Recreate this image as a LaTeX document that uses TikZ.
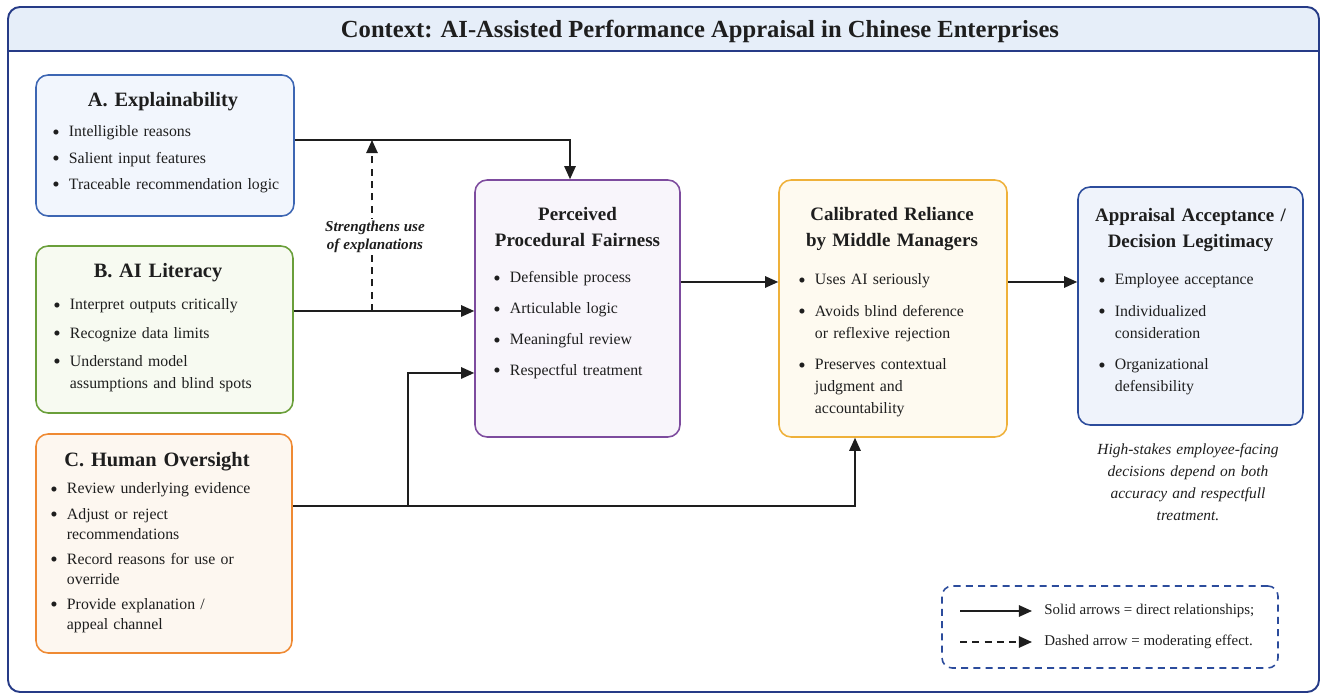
\documentclass[tikz,border=0pt]{standalone}
\usepackage{fontspec}
\setmainfont{Liberation Serif}
\usepackage{xcolor}
\usetikzlibrary{arrows.meta}

\definecolor{frameblue}{HTML}{263B87}
\definecolor{headfill}{HTML}{E6EEF9}
\definecolor{inkdark}{HTML}{1E1E1E}
\definecolor{expline}{HTML}{3D66B3}
\definecolor{expfill}{HTML}{F2F6FD}
\definecolor{litline}{HTML}{6A9F3A}
\definecolor{litfill}{HTML}{F7FAF1}
\definecolor{ovsline}{HTML}{EF8A33}
\definecolor{ovsfill}{HTML}{FDF7F0}
\definecolor{fairline}{HTML}{7D4B9E}
\definecolor{fairfill}{HTML}{F8F5FB}
\definecolor{relline}{HTML}{EFB13A}
\definecolor{relfill}{HTML}{FEFAF0}
\definecolor{accline}{HTML}{2C4C9C}
\definecolor{accfill}{HTML}{EFF3FB}

\newcommand{\itm}[1]{\noindent\hangindent=1.05em\hangafter=1\makebox[1.05em][l]{\raisebox{-0.3ex}{\large\textbullet}}#1\par}

\tikzset{
  box/.style={draw, rounded corners=0.24cm, line width=0.9pt, inner sep=0pt},
  ttl/.style={font=\fontsize{10.8}{14.5}\selectfont\bfseries, text=inkdark, text width=4.4cm, align=center, anchor=base, inner sep=0pt},
  bigttl/.style={ttl, font=\fontsize{11.6}{14.5}\selectfont\bfseries},
  lst/.style={font=\fontsize{9}{12}\selectfont, text=inkdark, text width=4.8cm, align=left, anchor=base west, inner sep=0pt},
  arr/.style={-{Triangle[length=7.5pt,width=6.5pt]}, line width=1pt, inkdark},
  dsh/.style={arr, dash pattern=on 4pt off 3pt},
  note/.style={font=\fontsize{8.8}{12.5}\selectfont\itshape, text=inkdark, align=center}
}

\begin{document}
\begin{tikzpicture}[x=0.02cm, y=-0.02cm]
\useasboundingbox (0,0) rectangle (1320,695);

% frame and header
\fill[headfill] (8,51) [rounded corners=0.24cm] -- (8,7) -- (1319,7) [sharp corners] -- (1319,51) -- cycle;
\draw[frameblue, line width=1.1pt, rounded corners=0.24cm] (8,7) rectangle (1319,692);
\draw[frameblue, line width=1.3pt] (8,51) -- (1319,51);
\node[font=\fontsize{14}{16}\selectfont\bfseries, text=inkdark] (head) at (700,31) {Context: AI-Assisted Performance Appraisal in Chinese Enterprises};

% boxes
\node[box, draw=expline, fill=expfill, minimum width=5.16cm, minimum height=2.82cm] (A) at (165,145.5) {};
\node[box, draw=litline, fill=litfill, minimum width=5.14cm, minimum height=3.34cm] (B) at (164.5,329.5) {};
\node[box, draw=ovsline, fill=ovsfill, minimum width=5.12cm, minimum height=4.38cm] (C) at (164,543.5) {};
\node[box, draw=fairline, fill=fairfill, minimum width=4.1cm, minimum height=5.14cm] (P) at (577.5,308.5) {};
\node[box, draw=relline, fill=relfill, minimum width=4.56cm, minimum height=5.14cm] (R) at (893,308.5) {};
\node[box, draw=accline, fill=accfill, minimum width=4.5cm, minimum height=4.76cm] (F) at (1190.5,306) {};

% titles
\node[bigttl] (Atl) at (163,107) {A. Explainability};
\node[bigttl] (Btl) at (158,278) {B. AI Literacy};
\node[bigttl] (Ctl) at (157,467) {C. Human Oversight};
\node[ttl] (Ptl) at (577.5,221) {Perceived\\Procedural Fairness};
\node[ttl] (Rtl) at (892,221) {Calibrated Reliance\\by Middle Managers};
\node[ttl] (Ftl) at (1190.5,222) {Appraisal Acceptance /\\Decision Legitimacy};

% bullet lists
\node[lst] (Alst) at (52,137) {\setlength\parskip{3pt}%
  \itm{Intelligible reasons}\itm{Salient input features}\itm{Traceable recommendation logic}};
\node[lst] (Blst) at (53,310) {\setlength{\baselineskip}{12.5pt}\setlength\parskip{3.5pt}%
  \itm{Interpret outputs critically}\itm{Recognize data limits}\itm{Understand model\newline assumptions and blind spots}};
\node[lst, font=\fontsize{9}{11.5}\selectfont] (Clst) at (50,494) {\setlength\parskip{2.8pt}%
  \itm{Review underlying evidence}\itm{Adjust or reject\newline recommendations}\itm{Record reasons for use or\newline override}\itm{Provide explanation /\newline appeal channel}};
\node[lst] (Plst) at (493,283) {\setlength\parskip{5.6pt}%
  \itm{Defensible process}\itm{Articulable logic}\itm{Meaningful review}\itm{Respectful treatment}};
\node[lst, font=\fontsize{9}{12.3}\selectfont] (Rlst) at (798,285) {\setlength\parskip{5.7pt}%
  \itm{Uses AI seriously}\itm{Avoids blind deference\newline or reflexive rejection}\itm{Preserves contextual\newline judgment and\newline accountability}};
\node[lst, font=\fontsize{9}{12.3}\selectfont] (Flst) at (1098,285) {\setlength\parskip{5.7pt}%
  \itm{Employee acceptance}\itm{Individualized\newline consideration}\itm{Organizational\newline defensibility}};

\node[note, text width=4.4cm, anchor=base] (Fnote) at (1188,455) {High-stakes employee-facing\\decisions depend on both\\accuracy and respectfull\\treatment.};

% connectors
\coordinate (aj) at (372,140);
\coordinate (bj) at (372,311);
\coordinate (cj) at (408,506);
\coordinate (ck) at (855,506);
\coordinate (pk) at (475,373);
\coordinate (row) at (0,282);
\coordinate (pin) at (570,140);

\draw[arr] (A.east |- pin) -- (pin) -- (pin |- P.north);
\draw[arr] (B.east |- bj) -- (P.west |- bj);
\draw[dsh] (bj) -- (aj);
\node[note, font=\fontsize{8.6}{10.3}\selectfont\itshape\bfseries, fill=white, inner sep=1pt] (mod) at (375,237) {Strengthens use\\of explanations};
\draw[arr] (C.east |- cj) -- (ck) -- (ck |- R.south);
\draw[arr] (cj) |- (P.west |- pk);
\draw[arr] (P.east |- row) -- (R.west |- row);
\draw[arr] (R.east |- row) -- (F.west |- row);

% legend
\node[draw=accline, dash pattern=on 4pt off 3pt, line width=0.9pt, rounded corners=0.2cm, minimum width=6.72cm, minimum height=1.64cm] (L) at (1110,627) {};
\coordinate (s1) at (960,611);
\coordinate (s2) at (1032,611);
\coordinate (d1) at (960,642);
\coordinate (d2) at (1032,642);
\draw[arr] (s1) -- (s2);
\draw[dsh] (d1) -- (d2);
\node[anchor=west, font=\fontsize{8.5}{10}\selectfont, text=inkdark, inner sep=0pt] (Ls) at (1044,611) {Solid arrows = direct relationships;};
\node[anchor=west, font=\fontsize{8.5}{10}\selectfont, text=inkdark, inner sep=0pt] (Ld) at (1044,642) {Dashed arrow = moderating effect.};
\end{tikzpicture}
\end{document}
